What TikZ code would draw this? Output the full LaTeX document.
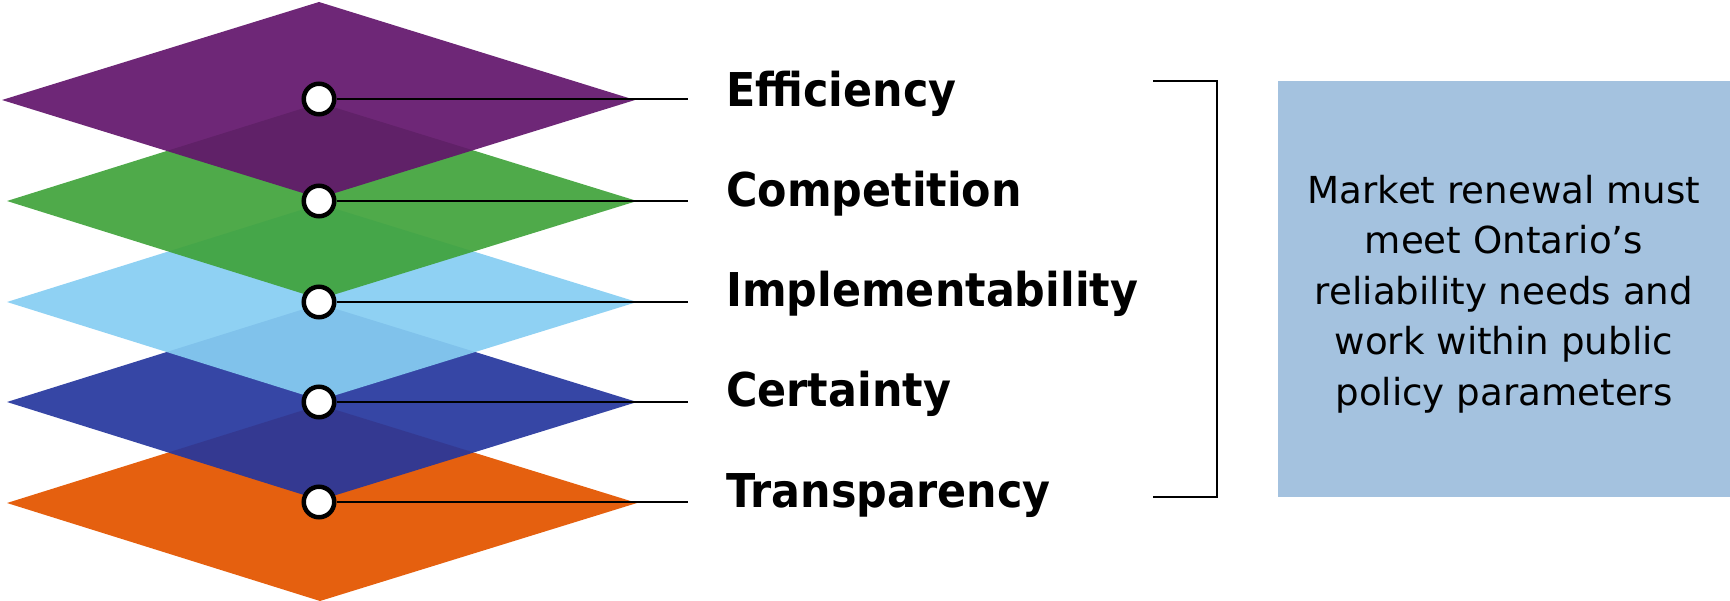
\documentclass[tikz,border=0pt]{standalone}
\usepackage{fontspec}
\setmainfont{DejaVu Sans}
\newfontfamily\labfont[FakeStretch=0.92]{DejaVu Sans}
\definecolor{cpurple}{RGB}{98,21,107}
\definecolor{cgreen}{RGB}{64,163,59}
\definecolor{clight}{RGB}{134,205,242}
\definecolor{cdark}{RGB}{37,54,157}
\definecolor{corange}{RGB}{229,96,15}
\definecolor{boxblue}{RGB}{164,194,223}
\begin{document}
\begin{tikzpicture}[x=1pt,y=-1pt,
  layer/.style={fill opacity=0.92},
  dot/.style={circle,draw=black,line width=4.5pt,fill=white,minimum size=30.5pt,inner sep=0pt},
  lead/.style={line width=2pt},
  lab/.style={anchor=base west,inner sep=0pt,font=\labfont\bfseries\fontsize{46.6}{56}\selectfont},
  bracket/.style={line width=2.5pt},
  msgbox/.style={fill=boxblue,minimum width=452pt,minimum height=416pt,inner sep=0pt,align=center,font=\fontsize{37.2}{50.5}\selectfont}]
\useasboundingbox (0,0) rectangle (1730,601);
% layers (bottom first)
\fill[corange] (7,503) -- (320,405) -- (637,503) -- (320,601) -- cycle;
\fill[cdark,layer] (7,402) -- (320,304) -- (637,402) -- (320,500) -- cycle;
\fill[clight,layer] (7,302) -- (320,204) -- (637,302) -- (320,400) -- cycle;
\fill[cgreen,layer] (7,201) -- (320,103) -- (637,201) -- (320,299) -- cycle;
\fill[cpurple,layer] (2,100) -- (319,2) -- (635,100) -- (319,198) -- cycle;
% dots
\node[dot] (d1) at (319,99) {};
\node[dot] (d2) at (319,201) {};
\node[dot] (d3) at (319,302) {};
\node[dot] (d4) at (319,402) {};
\node[dot] (d5) at (319,502) {};
% lead ends
\coordinate (e1) at (688,99);
\coordinate (e2) at (688,201);
\coordinate (e3) at (688,302);
\coordinate (e4) at (688,402);
\coordinate (e5) at (688,502);
\draw[lead] (d1.east) -- (e1);
\draw[lead] (d2.east) -- (e2);
\draw[lead] (d3.east) -- (e3);
\draw[lead] (d4.east) -- (e4);
\draw[lead] (d5.east) -- (e5);
% labels
\node[lab] (l1) at (726,107) {Efficiency};
\node[lab] (l2) at (726,207) {Competition};
\node[lab] (l3) at (726,307) {Implementability};
\node[lab] (l4) at (726,407) {Certainty};
\node[lab] (l5) at (726,507) {Transparency};
% bracket
\coordinate (bt) at (1153,81);
\coordinate (btr) at (1217,81);
\coordinate (bbr) at (1217,497);
\coordinate (bb) at (1153,497);
\draw[bracket] (bt) -- (btr) -- (bbr) -- (bb);
% box
\node[msgbox] (msg) at (1504,289) {\rule{0pt}{38pt}Market renewal must\\meet Ontario’s\\reliability needs and\\work within public\\policy parameters};
\end{tikzpicture}
\end{document}
